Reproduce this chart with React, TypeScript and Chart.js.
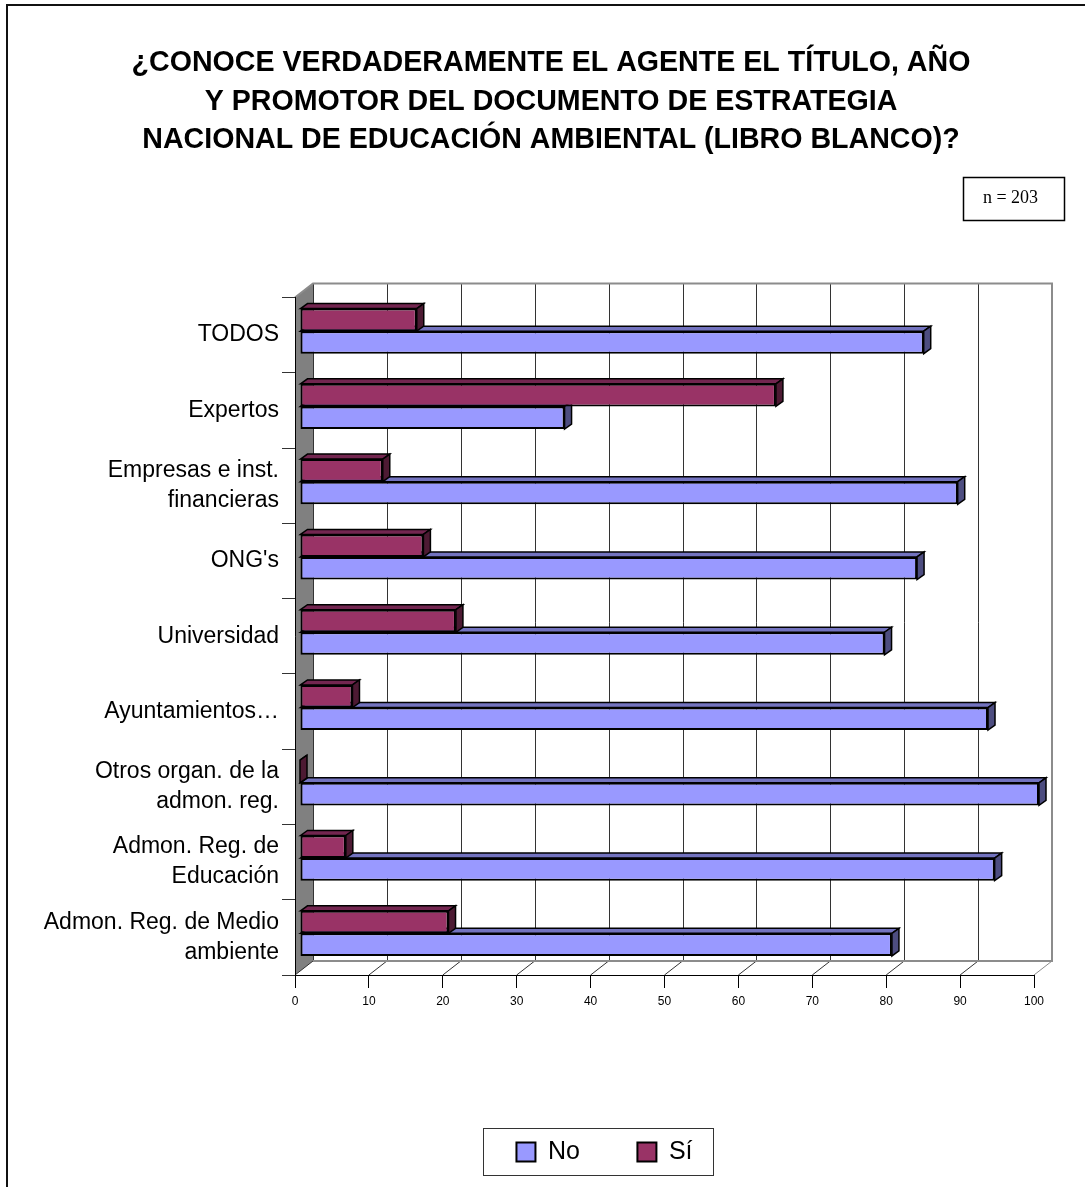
import { useEffect, useRef } from "react";
import { Chart, registerables } from "chart.js";

Chart.register(...registerables);

const categories: (string | string[])[] = [
  "TODOS",
  "Expertos",
  ["Empresas e inst.", "financieras"],
  "ONG's",
  "Universidad",
  "Ayuntamientos…",
  ["Otros organ. de la", "admon. reg."],
  ["Admon. Reg. de", "Educación"],
  ["Admon. Reg. de Medio", "ambiente"],
];
const noValues = [84.4, 35.8, 89, 83.5, 79.1, 93.1, 100, 94, 80.1];
const siValues = [15.8, 64.4, 11.2, 16.7, 21.1, 7.1, 0, 6.2, 20.1];
const titleLines = [
  "¿CONOCE VERDADERAMENTE EL AGENTE EL TÍTULO, AÑO",
  "Y PROMOTOR DEL DOCUMENTO DE ESTRATEGIA",
  "NACIONAL DE EDUCACIÓN AMBIENTAL (LIBRO BLANCO)?",
];
const sampleNote = "n = 203";

const WIDTH = 1085;
const HEIGHT = 1187;
const DEPTH_X = 18;
const DEPTH_Y = -14;
const BAR_X = 5;
const BAR_Y = -4;
const BAR_DX = 7;
const BAR_DY = -5;

const SANS = '"Liberation Sans", Arial, sans-serif';

const scene = {
  id: "scene3d",
  afterLayout(chart: any) {
    if (chart.titleBlock) {
      chart.titleBlock.left = 17;
      chart.titleBlock.right = WIDTH;
    }
    if (chart.legend) {
      chart.legend.left = 124;
      chart.legend.right = WIDTH;
      chart.legend.top = 1082;
      chart.legend.bottom = HEIGHT;
    }
  },
  beforeDraw(chart: any) {
    const { ctx, chartArea: a, scales } = chart;
    const x = scales.x;
    ctx.save();
    ctx.fillStyle = "#fff";
    ctx.fillRect(0, 0, WIDTH, HEIGHT);

    // frame: only the top and left edges fall inside the picture
    ctx.strokeStyle = "#111";
    ctx.lineWidth = 2;
    ctx.beginPath();
    ctx.moveTo(7, HEIGHT);
    ctx.lineTo(7, 5);
    ctx.lineTo(WIDTH, 5);
    ctx.stroke();

    // left wall
    ctx.fillStyle = "#808080";
    ctx.beginPath();
    ctx.moveTo(a.left, a.top);
    ctx.lineTo(a.left + DEPTH_X, a.top + DEPTH_Y);
    ctx.lineTo(a.left + DEPTH_X, a.bottom + DEPTH_Y);
    ctx.lineTo(a.left, a.bottom);
    ctx.closePath();
    ctx.fill();

    // back-wall grid and floor diagonals, one per tick
    x.ticks.forEach((t: any) => {
      const px = x.getPixelForValue(t.value);
      const isLast = t.value === x.max;
      ctx.strokeStyle = isLast ? "#8c8c8c" : "#333";
      ctx.lineWidth = 1;
      ctx.beginPath();
      ctx.moveTo(Math.round(px + DEPTH_X) + 0.5, a.top + DEPTH_Y);
      ctx.lineTo(Math.round(px + DEPTH_X) + 0.5, a.bottom + DEPTH_Y);
      ctx.stroke();
      ctx.beginPath();
      ctx.moveTo(px, a.bottom);
      ctx.lineTo(px + DEPTH_X, a.bottom + DEPTH_Y);
      ctx.stroke();
    });

    // back-wall outline
    ctx.strokeStyle = "#8c8c8c";
    ctx.lineWidth = 2;
    ctx.beginPath();
    ctx.moveTo(a.left, a.top);
    ctx.lineTo(a.left + DEPTH_X, a.top + DEPTH_Y);
    ctx.lineTo(a.right + DEPTH_X, a.top + DEPTH_Y);
    ctx.lineTo(a.right + DEPTH_X, a.bottom + DEPTH_Y);
    ctx.lineTo(a.left + DEPTH_X, a.bottom + DEPTH_Y);
    ctx.stroke();
    ctx.restore();
  },
  beforeDatasetDraw(chart: any, args: any) {
    const { ctx } = chart;
    ctx.save();
    ctx.translate(BAR_X, BAR_Y);
    const ds = chart.data.datasets[args.index];
    const meta = args.meta;
    ctx.strokeStyle = "#000";
    ctx.lineWidth = 1.5;
    ctx.lineJoin = "miter";
    meta.data.forEach((bar: any) => {
      const p = bar.getProps(["x", "y", "base", "height"]);
      const top = p.y - p.height / 2;
      const bottom = p.y + p.height / 2;
      // top face
      ctx.fillStyle = ds.topColor;
      ctx.beginPath();
      ctx.moveTo(p.base, top);
      ctx.lineTo(p.base + BAR_DX, top + BAR_DY);
      ctx.lineTo(p.x + BAR_DX, top + BAR_DY);
      ctx.lineTo(p.x, top);
      ctx.closePath();
      ctx.fill();
      ctx.stroke();
      // side face
      ctx.fillStyle = ds.sideColor;
      ctx.beginPath();
      ctx.moveTo(p.x, top);
      ctx.lineTo(p.x + BAR_DX, top + BAR_DY);
      ctx.lineTo(p.x + BAR_DX, bottom + BAR_DY);
      ctx.lineTo(p.x, bottom);
      ctx.closePath();
      ctx.fill();
      ctx.stroke();
    });
  },
  afterDatasetDraw(chart: any) {
    chart.ctx.restore();
  },
  afterDraw(chart: any) {
    const { ctx } = chart;
    ctx.save();
    // note box
    ctx.strokeStyle = "#000";
    ctx.lineWidth = 1.5;
    ctx.strokeRect(963.5, 177.5, 101, 43);
    ctx.fillStyle = "#000";
    ctx.font = '18px "Liberation Serif", serif';
    ctx.textAlign = "center";
    ctx.textBaseline = "middle";
    ctx.fillText(sampleNote, 1010.5, 198);
    // legend frame
    ctx.strokeStyle = "#333";
    ctx.lineWidth = 1;
    ctx.strokeRect(483.5, 1128.5, 230, 47);
    ctx.restore();
  },
};

export default function App() {
  const ref = useRef<HTMLCanvasElement>(null);
  useEffect(() => {
    const chart = new Chart(ref.current!, {
      type: "bar",
      plugins: [scene],
      data: {
        labels: categories as any,
        datasets: [
          {
            label: "Sí",
            data: siValues,
            backgroundColor: "#993366",
            borderColor: "#000",
            borderWidth: 2,
            borderSkipped: false,
            clip: false,
            topColor: "#732650",
            sideColor: "#4d1a33",
          },
          {
            label: "No",
            data: noValues,
            backgroundColor: "#9999ff",
            borderColor: "#000",
            borderWidth: 2,
            borderSkipped: false,
            clip: false,
            topColor: "#7373bf",
            sideColor: "#4d4d80",
          },
        ] as any,
      },
      options: {
        indexAxis: "y",
        responsive: false,
        animation: false,
        events: [],
        datasets: { bar: { categoryPercentage: 0.6, barPercentage: 1 } },
        layout: { autoPadding: false, padding: { left: 0, right: 51, top: 0, bottom: 0 } },
        scales: {
          x: {
            type: "linear",
            min: 0,
            max: 100,
            afterFit: (s: any) => {
              s.height = 119.5;
            },
            grid: { drawOnChartArea: false, drawTicks: true, tickLength: 13, tickColor: "#000", tickWidth: 1 },
            border: { display: true, color: "#000", width: 1 },
            ticks: {
              stepSize: 10,
              maxRotation: 0,
              autoSkip: false,
              padding: 6,
              color: "#000",
              font: { family: SANS, size: 12 },
            },
          },
          y: {
            type: "category",
            afterFit: (s: any) => {
              s.width = 295;
            },
            grid: { offset: true, drawOnChartArea: false, drawTicks: true, tickLength: 13, tickColor: "#333", tickWidth: 1 },
            border: { display: true, color: "#000", width: 1 },
            ticks: {
              autoSkip: false,
              padding: 3,
              color: "#000",
              font: { family: SANS, size: 23, lineHeight: 1.304 },
            },
          },
        },
        plugins: {
          tooltip: { enabled: false },
          title: {
            display: true,
            text: titleLines,
            color: "#000",
            font: { family: SANS, size: 28.6, weight: "bold", lineHeight: 1.346 },
            padding: { top: 44, bottom: 138 },
          },
          legend: {
            display: true,
            position: "bottom",
            reverse: true,
            labels: {
              boxWidth: 19,
              boxHeight: 19,
              padding: 57.5,
              color: "#000",
              font: { family: SANS, size: 25 },
            },
          },
        },
      } as any,
    });
    return () => chart.destroy();
  }, []);
  return (
    <canvas
      ref={ref}
      width={WIDTH}
      height={HEIGHT}
      style={{ position: "absolute", left: 0, top: 0, display: "block" }}
    />
  );
}
